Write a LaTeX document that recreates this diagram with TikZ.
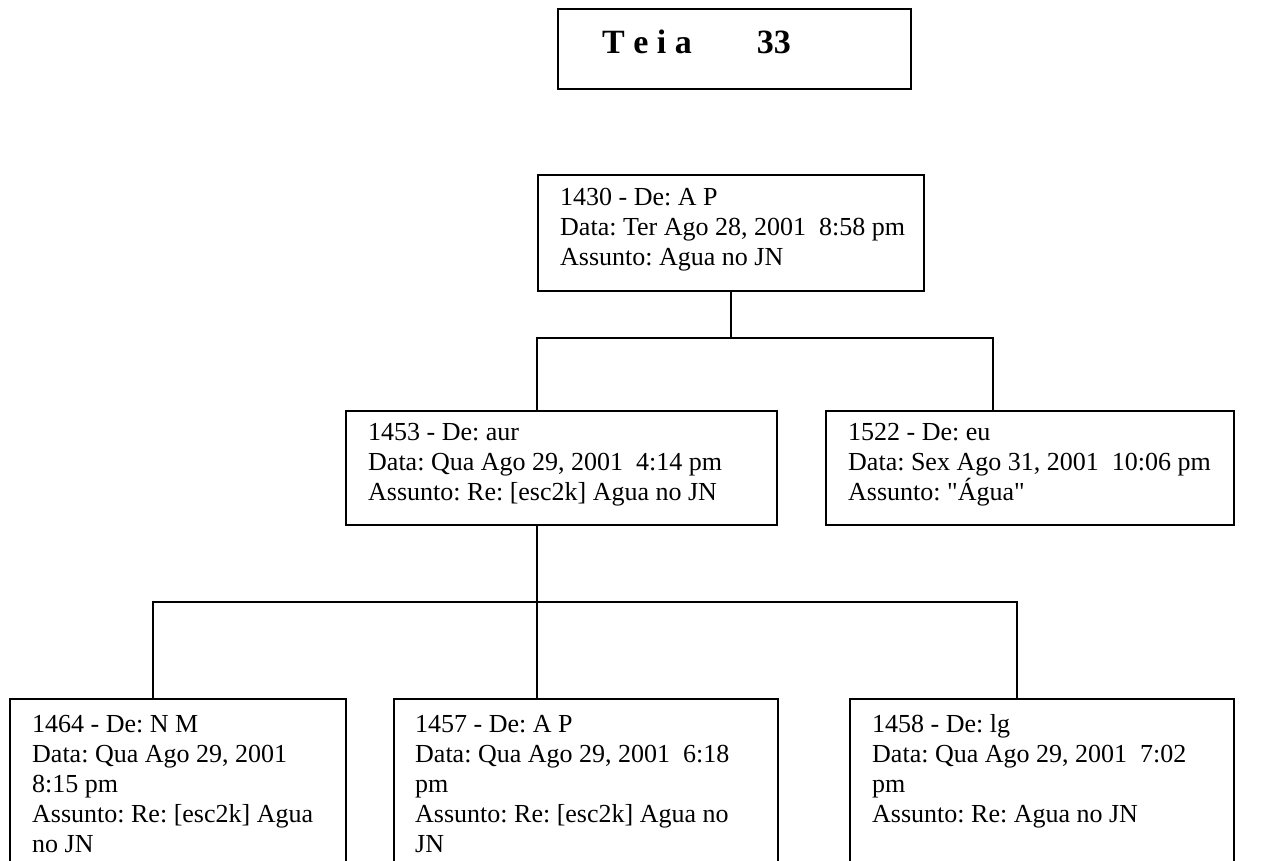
\documentclass[tikz,border=0pt]{standalone}
\usepackage{fontspec}
\setmainfont{Liberation Serif}[Ligatures=TeXOff]
\usetikzlibrary{calc}
\frenchspacing
\begin{document}
\begin{tikzpicture}[x=1pt,y=-1pt,
  frame/.style={draw=black, line width=1.6pt, inner sep=0pt, anchor=north west},
  msg/.style={anchor=north west, inner sep=0pt, align=left,
              font=\fontsize{26}{30}\selectfont},
  link/.style={draw=black, line width=1.6pt}]
\useasboundingbox (0,0) rectangle (1261,860);
\clip (0,0) rectangle (1261,860);

% title
\node[frame, minimum width=353pt, minimum height=80pt] (title) at (557,8) {};
\node[anchor=base west, inner sep=0pt, font=\bfseries\fontsize{34}{40}\selectfont]
  (titletext) at (602,53) {T e i a\hspace{65pt}33};

% root message
\node[frame, minimum width=386pt, minimum height=116pt] (root) at (537,174) {};
\node[msg] (roottext) at ($(root.north west)+(23,10)$)
  {\strut 1430 - De: A P\\Data: Ter Ago 28, 2001\ \ 8:58 pm\\Assunto: Agua no JN};

% second level
\node[frame, minimum width=431pt, minimum height=114pt] (ml) at (345,410) {};
\node[msg] (mltext) at ($(ml.north west)+(23,9)$)
  {\strut 1453 - De: aur\\Data: Qua Ago 29, 2001\ \ 4:14 pm\\Assunto: Re: [esc2k] Agua no JN};

\node[frame, minimum width=408pt, minimum height=114pt] (mr) at (825,410) {};
\node[msg] (mrtext) at ($(mr.north west)+(23,9)$)
  {\strut 1522 - De: eu\\Data: Sex Ago 31, 2001\ \ 10:06 pm\\Assunto: "Água"};

% third level
\node[frame, minimum width=336pt, minimum height=220pt] (bl) at (9,698) {};
\node[msg] (bltext) at ($(bl.north west)+(23,13)$)
  {\strut 1464 - De: N M\\Data: Qua Ago 29, 2001\\8:15 pm\\Assunto: Re: [esc2k] Agua\\no JN};

\node[frame, minimum width=384pt, minimum height=220pt] (bm) at (393,698) {};
\node[msg] (bmtext) at ($(bm.north west)+(22,13)$)
  {\strut 1457 - De: A P\\Data: Qua Ago 29, 2001\ \ 6:18\\pm\\Assunto: Re: [esc2k] Agua no\\JN};

\node[frame, minimum width=384pt, minimum height=220pt] (br) at (849,698) {};
\node[msg] (brtext) at ($(br.north west)+(23,13)$)
  {\strut 1458 - De: lg\\Data: Qua Ago 29, 2001\ \ 7:02\\pm\\Assunto: Re: Agua no JN};

% connectors
\coordinate (busA) at (537,338);
\coordinate (busB) at (993,338);
\draw[link] (root.south) -- (root.south |- busA);
\draw[link] (ml.north -| busA) -- (busA) -- (busB) -- (mr.north -| busB);

\coordinate (busC) at (153,602);
\coordinate (busD) at (537,602);
\coordinate (busE) at (1017,602);
\draw[link] (ml.south -| busD) -- (busD);
\draw[link] (bl.north -| busC) -- (busC) -- (busE) -- (br.north -| busE);
\draw[link] (busD) -- (bm.north -| busD);
\end{tikzpicture}
\end{document}
